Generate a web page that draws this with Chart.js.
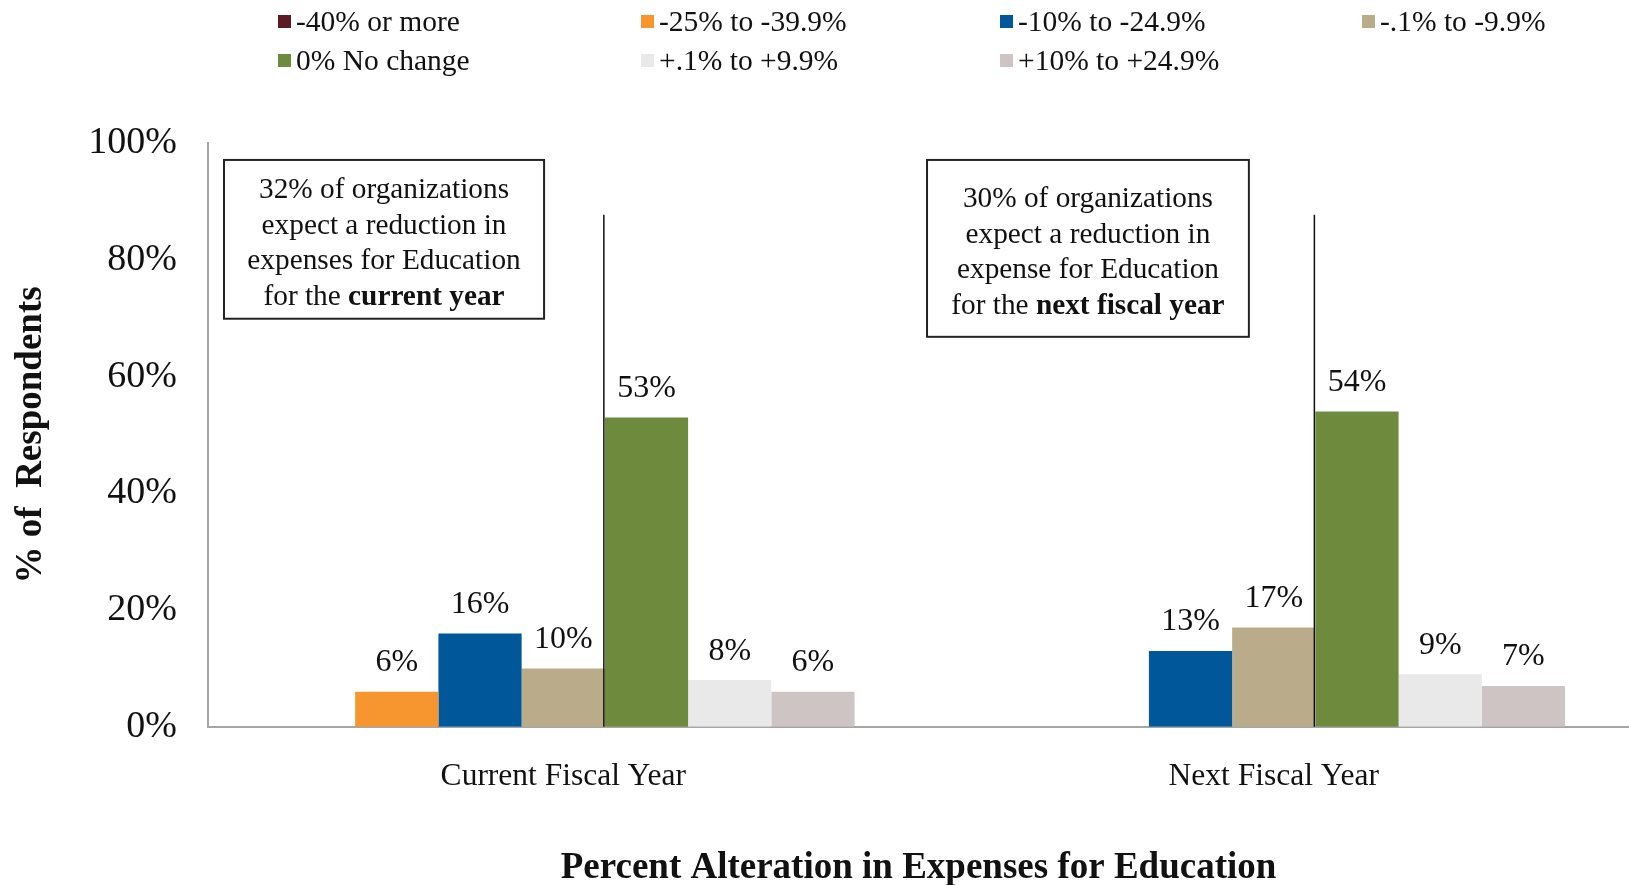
<!DOCTYPE html>
<html>
<head>
<meta charset="utf-8">
<script src="https://cdn.jsdelivr.net/npm/chart.js@4.4.1/dist/chart.umd.min.js"></script>
<style>
  html, body { margin: 0; padding: 0; background: #fff; }
  #wrap { position: relative; width: 1629px; height: 885px; }
  #c { position: absolute; left: 0; top: 0; }
  #legend { position: absolute; left: 278px; top: 2px; display: grid;
    grid-template-columns: 363px 359px 362px 280px; grid-auto-rows: 39px;
    font-family: "Liberation Serif", "Times New Roman", serif; font-size: 29.5px; color: #111; }
  .li { display: flex; align-items: center; white-space: nowrap; }
  .sw { width: 13px; height: 13px; margin-right: 5px; flex: none; }
</style>
</head>
<body>
<div id="wrap">
  <canvas id="c" width="1629" height="885"></canvas>
  <div id="legend"></div>
</div>
<script>
const categories = ["Current Fiscal Year", "Next Fiscal Year"];
const seriesLabels = ["-40% or more", "-25% to -39.9%", "-10% to -24.9%", "-.1% to -9.9%",
                      "0% No change", "+.1% to +9.9%", "+10% to +24.9%"];
const seriesColors = ["#5c1a25", "#f7962f", "#00589a", "#baab8b", "#6e8b3d", "#e9e9e9", "#cfc4c4"];
const s40more   = [0, 0];
const s25to40   = [6, 0];
const s10to25   = [16, 13];
const s01to10   = [10, 17];
const sNoChange = [53, 54];
const sPlus01   = [8, 9];
const sPlus10   = [6, 7];
const seriesValues = [s40more, s25to40, s10to25, s01to10, sNoChange, sPlus01, sPlus10];
const yTicks = [0, 20, 40, 60, 80, 100];

const notes = [
  { lines: [[["32% of organizations", false]], [["expect a reduction in", false]],
            [["expenses for Education", false]], [["for the ", false], ["current year", true]]],
    x0: -0.4775, x1: -0.027, y0: 97.1, y1: 69.9 },
  { lines: [[["30% of organizations", false]], [["expect a reduction in", false]],
            [["expense for Education", false]], [["for the ", false], ["next fiscal year", true]]],
    x0: 0.512, x1: 0.965, y0: 97.1, y1: 66.8 }
];
const dividerTop = [87.7, 87.7];

const SERIF = '"Liberation Serif", "Times New Roman", serif';

// HTML legend
const leg = document.getElementById('legend');
seriesLabels.forEach((l, i) => {
  const d = document.createElement('div'); d.className = 'li';
  if (i === 4) d.style.gridColumn = '1';
  d.innerHTML = '<span class="sw" style="background:' + seriesColors[i] + '"></span>' + l;
  leg.appendChild(d);
});

const overlay = {
  id: 'overlay',
  afterDatasetsDraw(chart) {
    const ctx = chart.ctx;
    const xs = chart.scales.x, ys = chart.scales.y;
    const m3 = chart.getDatasetMeta(3);
    ctx.save();
    ctx.strokeStyle = '#111'; ctx.lineWidth = 1.5;
    m3.data.forEach((el, i) => {
      const x = el.x + el.width / 2 - 1;
      ctx.beginPath();
      ctx.moveTo(x, ys.getPixelForValue(dividerTop[i]));
      ctx.lineTo(x, ys.getPixelForValue(0));
      ctx.stroke();
    });
    ctx.fillStyle = '#111';
    ctx.font = '32px ' + SERIF;
    ctx.textAlign = 'center'; ctx.textBaseline = 'middle';
    chart.data.datasets.forEach((ds, di) => {
      chart.getDatasetMeta(di).data.forEach((el, i) => {
        const v = ds.data[i];
        if (v > 0) ctx.fillText(v + '%', el.x, el.y - 29);
      });
    });
    notes.forEach(n => {
      const l = xs.getPixelForValue(n.x0), r = xs.getPixelForValue(n.x1);
      const t = ys.getPixelForValue(n.y0), b = ys.getPixelForValue(n.y1);
      ctx.fillStyle = '#fff';
      ctx.fillRect(l, t, r - l, b - t);
      ctx.strokeStyle = '#222'; ctx.lineWidth = 2;
      ctx.strokeRect(l, t, r - l, b - t);
      const lh = 35.5;
      const cx = (l + r) / 2, cy = (t + b) / 2 + 4.5;
      const startY = cy - lh * (n.lines.length - 1) / 2;
      ctx.fillStyle = '#111'; ctx.textBaseline = 'middle'; ctx.textAlign = 'left';
      const fs = '29.3px ';
      n.lines.forEach((parts, li) => {
        let w = 0;
        parts.forEach(p => { ctx.font = (p[1] ? 'bold ' : '') + fs + SERIF; w += ctx.measureText(p[0]).width; });
        let x = cx - w / 2;
        parts.forEach(p => {
          ctx.font = (p[1] ? 'bold ' : '') + fs + SERIF;
          ctx.fillText(p[0], x, startY + li * lh);
          x += ctx.measureText(p[0]).width;
        });
      });
    });
    ctx.restore();
  }
};

new Chart(document.getElementById('c'), {
  type: 'bar',
  data: {
    labels: categories,
    datasets: seriesLabels.map((l, i) => ({
      label: l, data: seriesValues[i], backgroundColor: seriesColors[i],
      borderWidth: 0, categoryPercentage: 0.82, barPercentage: 1.0
    }))
  },
  options: {
    responsive: false, animation: false, devicePixelRatio: 1,
    layout: { padding: { top: 143, right: 0, left: 0, bottom: 0 } },
    plugins: { legend: { display: false }, tooltip: { enabled: false } },
    scales: {
      x: {
        grid: { display: false, drawTicks: false },
        border: { display: true, color: '#a6a6a6', width: 2 },
        ticks: { color: '#111', font: { family: SERIF, size: 31.5 }, padding: 31 },
        title: { display: true, text: 'Percent Alteration in Expenses for Education', color: '#111',
                 font: { family: SERIF, size: 37, weight: 'bold', lineHeight: 0.9 }, padding: { top: 25.1, bottom: 0 } }
      },
      y: {
        min: 0, max: 100,
        afterFit(s) { s.width = 208; },
        afterBuildTicks(s) { s.ticks = yTicks.map(v => ({ value: v })); },
        grid: { display: false, drawTicks: false },
        border: { display: true, color: '#a6a6a6', width: 2 },
        ticks: { color: '#111', font: { family: SERIF, size: 38 }, padding: 31, callback: v => v + '%' },
        title: { display: true, text: '% of  Respondents', color: '#111',
                 font: { family: SERIF, size: 37, weight: 'bold' }, padding: { top: 9, bottom: 0 } }
      }
    }
  },
  plugins: [overlay]
});
</script>
</body>
</html>
